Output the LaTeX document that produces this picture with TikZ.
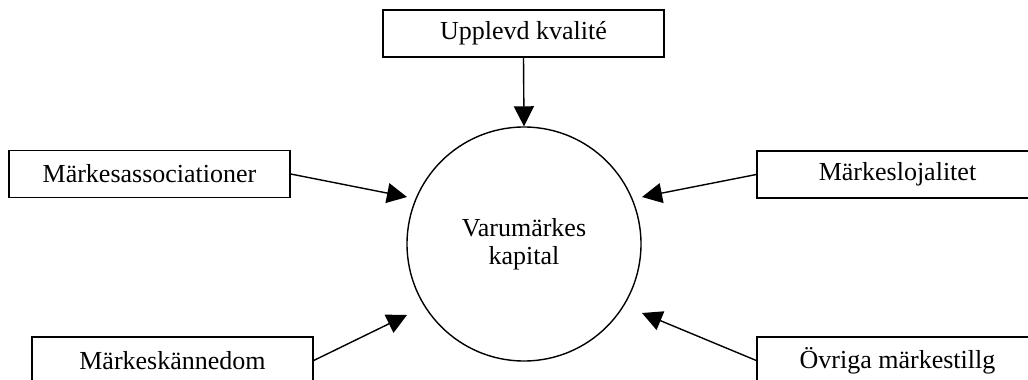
\documentclass[tikz,border=0pt]{standalone}
\usepackage{fontspec}
\setmainfont{Liberation Serif}
\usetikzlibrary{arrows.meta}
\begin{document}
\begin{tikzpicture}[x=1pt,y=-1pt,
  factor/.style={draw,line width=1.4pt,minimum width=281pt,minimum height=47pt,inner sep=0pt,
    font=\fontsize{26}{30}\selectfont},
  core/.style={draw,line width=1.4pt,circle,minimum size=234pt,inner sep=0pt,align=center,
    font=\fontsize{26}{30}\selectfont},
  link/.style={line width=1.4pt,-{Triangle[length=20pt,width=20pt]}}]
\useasboundingbox (0,0) rectangle (1028,380);
\clip (0,0) rectangle (1028,380);
\node[core] (c) at (524,244) {Varumärkes\\[-2pt]kapital};
\node[factor] (top) at (523.5,33.5) {Upplevd kvalité};
\node[factor] (left) at (149.5,174) {Märkesassociationer};
\node[factor] (right) at (897.5,174.5) {Märkeslojalitet};
\node[factor] (bl) at (172.5,360.5) {Märkeskännedom};
\node[factor] (br) at (897.5,360.5) {Övriga märkestillg};
\coordinate (tlt) at (407,197);
\coordinate (trt) at (642,197);
\coordinate (tbl) at (407,315);
\coordinate (tbr) at (642,313);
\draw[link] (top.south) -- (c.north);
\draw[link] (left.east) -- (tlt);
\draw[link] (right.west) -- (trt);
\draw[link] (bl.east) -- (tbl);
\draw[link] (br.west) -- (tbr);
\end{tikzpicture}
\end{document}
